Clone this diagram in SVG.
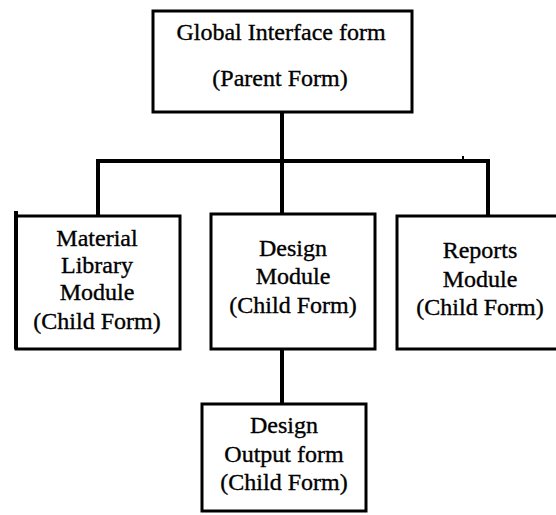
<svg xmlns="http://www.w3.org/2000/svg" width="556" height="515" viewBox="0 0 556 515">
<style>
.box{fill:#fff;stroke:#000;stroke-width:3}
.t{font-family:"Liberation Serif","Times New Roman",serif;font-size:24px;fill:#000;stroke:#000;stroke-width:0.35;text-anchor:middle}
.c{stroke:#000;stroke-width:4;fill:none}
</style>
<rect width="556" height="515" fill="#fff"/>
<g id="connectors">
<line class="c" x1="282" y1="112" x2="282" y2="161"/>
<polyline class="c" points="98,216 98,161 488,161 488,216"/>
<line class="c" x1="282" y1="161" x2="282" y2="214"/>
<line class="c" x1="282" y1="349" x2="282" y2="404"/>
<line stroke="#000" stroke-width="2" x1="463" y1="156" x2="463" y2="160"/>
</g>
<g id="global">
<rect class="box" x="153" y="11" width="259" height="101"/>
<text class="t" x="281" y="40">Global Interface form</text>
<text class="t" x="280" y="86">(Parent Form)</text>
</g>
<g id="material">
<rect class="box" x="16" y="216" width="164" height="133"/>
<line stroke="#000" stroke-width="4" x1="16" y1="211" x2="16" y2="349"/>
<text class="t" x="97" y="246">Material</text>
<text class="t" x="97" y="273">Library</text>
<text class="t" x="97" y="300">Module</text>
<text class="t" x="97" y="329">(Child Form)</text>
</g>
<g id="design">
<rect class="box" x="211" y="214" width="164" height="135"/>
<text class="t" x="293" y="256">Design</text>
<text class="t" x="293" y="284">Module</text>
<text class="t" x="293" y="313">(Child Form)</text>
</g>
<g id="reports">
<rect class="box" x="397" y="216" width="170" height="133"/>
<text class="t" x="480" y="258">Reports</text>
<text class="t" x="480" y="287">Module</text>
<text class="t" x="480" y="315">(Child Form)</text>
</g>
<g id="output">
<rect class="box" x="202" y="404" width="164" height="107"/>
<text class="t" x="284" y="433">Design</text>
<text class="t" x="284" y="462">Output form</text>
<text class="t" x="284" y="490">(Child Form)</text>
</g>
</svg>
